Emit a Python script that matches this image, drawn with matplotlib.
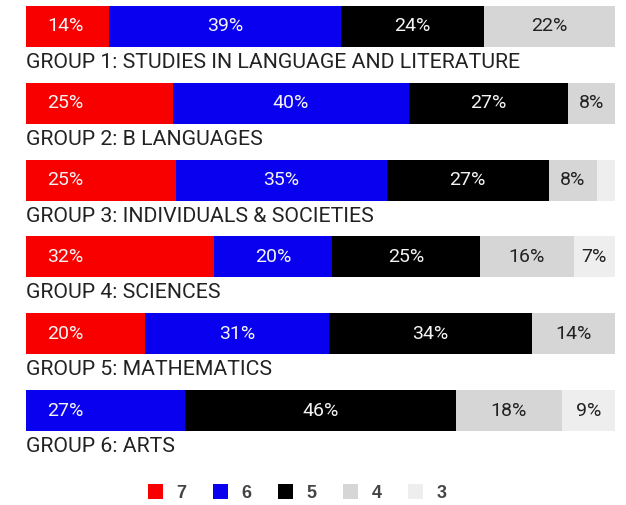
import matplotlib
matplotlib.use("Agg")
import matplotlib.pyplot as plt
from matplotlib.patches import Patch
from matplotlib import font_manager

groups = [
    "GROUP 1: STUDIES IN LANGUAGE AND LITERATURE",
    "GROUP 2: B LANGUAGES",
    "GROUP 3: INDIVIDUALS & SOCIETIES",
    "GROUP 4: SCIENCES",
    "GROUP 5: MATHEMATICS",
    "GROUP 6: ARTS",
]
grades = ["7", "6", "5", "4", "3"]
# percentage of students per grade, one list per grade, one value per group
grade_7 = [14, 25, 25, 32, 20, 0]
grade_6 = [39, 40, 35, 20, 31, 27]
grade_5 = [24, 27, 27, 25, 34, 46]
grade_4 = [22, 8, 8, 16, 14, 18]
grade_3 = [0, 0, 3, 7, 0, 9]
min_labelled = 5

colors = ["#f80000", "#0800ee", "#000000", "#d6d6d6", "#eeeeee"]
text_colors = ["#f4f4f4", "#f4f4f4", "#f4f4f4", "#222222", "#222222"]

available = {f.name for f in font_manager.fontManager.ttflist}
font = "Roboto" if "Roboto" in available else "Liberation Sans"
legend_font = "Liberation Sans" if "Liberation Sans" in available else "DejaVu Sans"

series = [grade_7, grade_6, grade_5, grade_4, grade_3]

fig = plt.figure(figsize=(6.26, 5.05), dpi=100)
ax = fig.add_axes([26 / 626, 0, 589 / 626, 1])
ax.set_xlim(0, 1)
ax.set_ylim(6.23, -0.345)
ax.axis("off")

bar_h = 0.534
for i, name in enumerate(groups):
    total = sum(s[i] for s in series)
    left = 0.0
    first = True
    for k, s in enumerate(series):
        v = s[i]
        if v == 0:
            continue
        w = v / total
        ax.barh(i, w, left=left, height=bar_h, color=colors[k],
                edgecolor="none")
        if v >= min_labelled:
            if first:
                ax.annotate(f"{v}%", xy=(left, i), xytext=(15.5, 0),
                            textcoords="offset points", ha="left",
                            va="center", fontsize=14, color=text_colors[k],
                            family=font)
            else:
                ax.text(left + w / 2, i, f"{v}%", ha="center", va="center",
                        fontsize=14, color=text_colors[k], family=font)
        first = False
        left += w
    ax.text(0, i + 0.54, name, ha="left", va="baseline", fontsize=15.3,
            color="#222222", family=font)

handles = [Patch(facecolor=c, edgecolor="none") for c in colors]
fig.legend(handles, grades, loc="center", bbox_to_anchor=(0.475, 0.024),
           ncol=5, frameon=False, handlelength=0.85, handleheight=0.85,
           handletextpad=0.75, columnspacing=1.45,
           prop={"family": legend_font, "weight": "bold", "size": 13},
           labelcolor="#444444")

fig.savefig("out.png", dpi=100)
